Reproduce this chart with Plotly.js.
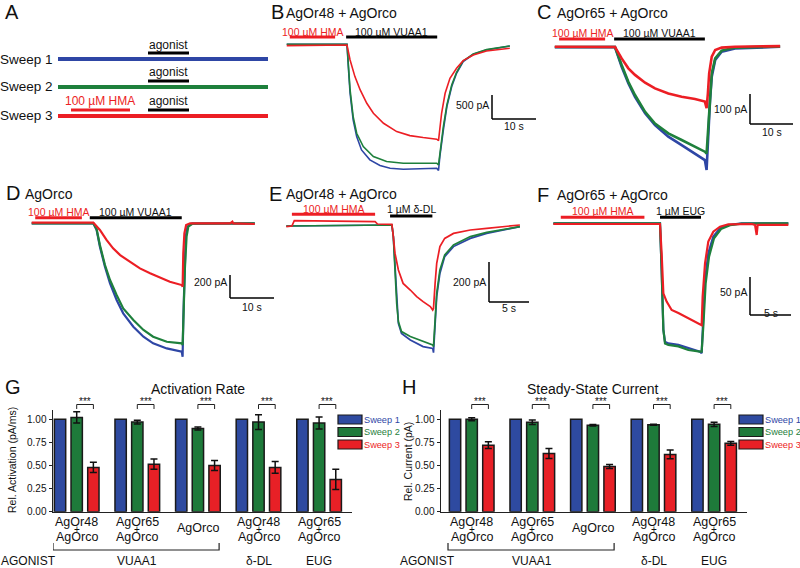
<!DOCTYPE html>
<html><head><meta charset="utf-8">
<script src="https://cdn.plot.ly/plotly-3.0.1.min.js"></script>
<style>body{margin:0;background:#fff}#chart{width:800px;height:568px}</style>
</head><body><div id="chart"></div>
<script>
// ---------------- DATA ----------------
const sweepNames = ['Sweep 1','Sweep 2','Sweep 3'];

// Panel B: AgOr48 + AgOrco, 100 uM VUAA1 (time s, current pA)
const bT1 = [-13.7,0,0.3,0.7,1.4,2.2,3.3,5.2,7.5,9.8,12.8,16.6,20.4,20.8,21.1,21.9,22.7,23.8,24.9,26.4,28.7,31.7,37.0];
const bI1 = [0,0,-465,-1020,-1575,-1922,-2200,-2408,-2526,-2582,-2603,-2596,-2582,-2630,-2339,-1784,-1298,-881,-604,-361,-208,-118,-35];
const bT2 = [-13.7,0,0.7,1.4,2.2,3.7,6.0,9.0,12.8,16.6,20.4,20.8,21.1,21.9,22.7,23.8,24.9,26.4,28.7,31.7,37.0];
const bI2 = [0,0,-951,-1506,-1853,-2131,-2339,-2443,-2478,-2485,-2478,-2512,-2269,-1714,-1263,-847,-583,-347,-201,-111,-35];
const bT3 = [-13.7,0,0.7,1.8,3.0,4.5,6.0,8.3,11.3,14.3,17.3,20.4,20.8,21.0,21.5,22.3,23.4,24.9,26.4,28.7,31.7,37.0];
const bI3 = [-28,-14,-326,-673,-951,-1228,-1437,-1645,-1818,-1902,-1943,-1978,-2006,-1853,-1437,-1020,-708,-500,-340,-222,-139,-83];

// Panel C: AgOr65 + AgOrco, 100 uM VUAA1
const cT1 = [-14.0,0,1.55,3.1,4.65,7.0,9.3,12.4,15.5,18.6,20.9,21.3,21.7,22.1,22.5,23.3,24.8,27.9,38.4];
const cI1 = [-2,-1,-67,-122,-167,-222,-261,-300,-328,-356,-378,-411,-289,-178,-100,-44,-17,-6,0];
const cT2 = [-14.0,0,1.55,3.1,4.65,7.0,9.3,12.4,15.5,18.6,20.9,21.3,21.7,22.1,22.5,23.3,24.8,27.9,38.4];
const cI2 = [-1,-1,-61,-117,-161,-217,-256,-289,-311,-333,-350,-356,-267,-167,-89,-39,-13,-3,1];
const cT3 = [-14.0,0,1.55,3.1,4.65,7.0,9.3,12.4,15.5,18.6,20.9,21.3,21.6,21.9,22.5,23.3,24.8,27.9,38.4];
const cI3 = [0,-1,-39,-72,-94,-120,-139,-156,-167,-174,-183,-205,-156,-89,-33,-11,-3,0,2];

// Panel D: AgOrco, 100 uM VUAA1
const dT1 = [-14.0,0,0.76,1.5,2.65,3.8,5.3,6.8,9.1,11.4,13.6,16.7,20.1,20.3,20.45,20.7,21.0,21.4,22.3,36.7];
const dI1 = [0,0,-58,-203,-377,-522,-667,-783,-899,-986,-1044,-1088,-1117,-1160,-841,-406,-116,-29,-3,0];
const dT2 = [-14.0,0,0.76,1.5,2.65,3.8,5.3,6.8,9.1,11.4,13.6,16.7,20.1,20.3,20.5,20.8,21.2,21.6,22.6,36.7];
const dI2 = [0,0,-52,-189,-363,-493,-624,-740,-841,-928,-986,-1030,-1044,-1059,-812,-406,-116,-29,-3,0];
const dT3 = [-14.0,0,1.5,3.0,4.5,6.1,8.3,10.6,12.9,15.2,17.4,20.1,20.3,20.45,20.7,21.1,22.0,31.1,31.6,31.8,36.7];
const dI3 = [6,6,-58,-145,-218,-276,-334,-392,-435,-470,-508,-537,-551,-261,-87,-15,0,0,15,0,-6];

// Panel E: AgOr48 + AgOrco, 1 uM delta-DL
const eT1 = [-13.3,-0.1,0.08,0.29,0.5,0.71,1.1,2.2,3.8,5.0,5.1,5.3,5.5,5.9,6.5,7.6,9.7,11.75,13.8,15.9];
const eI1 = [-5,0,-58,-225,-392,-492,-542,-575,-608,-617,-638,-508,-358,-242,-158,-108,-67,-42,-25,-8];
const eT2 = [-13.3,-0.1,0.08,0.29,0.5,0.71,1.1,2.2,3.8,5.0,5.1,5.3,5.5,5.9,6.5,7.6,9.7,11.75,13.8,15.9];
const eI2 = [-5,0,-58,-225,-392,-483,-533,-558,-583,-600,-608,-492,-342,-225,-150,-100,-58,-37,-22,-8];
const eT3 = [-13.3,-12.6,-12.3,-2.2,-1.9,-0.1,0.08,0.29,0.71,1.3,2.2,3.0,3.8,4.7,5.0,5.1,5.3,5.5,5.9,6.5,7.6,9.7,11.75,13.8,15.9];
const eI3 = [-8,-5,22,17,5,3,-58,-142,-225,-292,-325,-358,-383,-408,-425,-417,-292,-192,-108,-67,-42,-25,-17,-8,0];

// Panel F: AgOr65 + AgOrco, 1 uM EUG
const fT1 = [-13.0,0,0.2,0.41,0.61,1.02,2.24,3.46,4.88,5.08,5.28,5.49,5.89,6.5,7.32,8.33,9.96,15.65];
const fI1 = [0,0,-61.4,-140,-156,-158,-160,-164.5,-168.9,-171,-127,-74.6,-39.5,-17.5,-6.6,-2.2,0,0];
const fT2 = [-13.0,0,0.2,0.41,0.61,1.02,2.24,3.46,4.88,5.08,5.28,5.57,5.98,6.59,7.44,8.54,9.96,15.65];
const fI2 = [0,0,-61.4,-140,-158,-160,-162,-166.7,-168.9,-168.9,-136,-78.9,-43.9,-19.7,-7.5,-2.6,-0.4,0];
const fT3 = [-13.0,0,0.2,0.41,0.81,1.42,2.24,3.46,4.67,5.08,5.2,5.49,5.89,6.5,7.32,8.33,11.18,11.59,11.79,11.91,13.2,15.65];
const fI3 = [-0.9,-0.9,-39.5,-92.1,-103,-114,-118,-125,-131,-134,-96.5,-52.6,-24.1,-11,-4.4,-1.3,-0.9,-2.2,-15.4,-2.2,-2.2,-2.2];

// Application protocol (s): HMA pre-application and agonist application
const hmaB = [-13.0,-2.7], agoB = [-0.2,20.5];
const hmaC = [-13.0,-2.3], agoC = [-0.2,20.9];
const hmaD = [-13.2,-2.6], agoD = [-0.8,20.1];
const hmaE = [-12.6,-2.2], agoE = [-0.33,4.96];
const hmaF = [-12.1,-1.9], agoF = [0,5.0];

// Panels G, H
const groupIdx = [0,1,2,3,4];
const groupLabels = [['AgOr48','+','AgOrco'],['AgOr65','+','AgOrco'],['AgOrco'],['AgOr48','+','AgOrco'],['AgOr65','+','AgOrco']];
const agonistNames = ['VUAA1','δ-DL','EUG'];
const actS1 = [1,1,1,1,1];
const actS2 = [1.02,0.97,0.90,0.97,0.96];
const actS2err = [0.06,0.02,0.015,0.08,0.065];
const actS3 = [0.48,0.515,0.50,0.48,0.35];
const actS3err = [0.055,0.055,0.055,0.063,0.11];
const curS1 = [1,1,1,1,1];
const curS2 = [1.00,0.967,0.935,0.94,0.945];
const curS2err = [0.017,0.025,0.008,0.006,0.022];
const curS3 = [0.72,0.63,0.49,0.62,0.74];
const curS3err = [0.036,0.054,0.022,0.047,0.02];

// ---------------- STYLE / LAYOUT ----------------
const W=800, H=568;
const FONT='Arial, "Liberation Sans", sans-serif';
const BLUE='rgb(46,70,165)', GREEN='rgb(30,128,60)', RED='rgb(236,30,36)';
const BARBLUE='rgb(46,74,160)', BARGREEN='rgb(30,122,58)', BARRED='rgb(232,32,38)';
const colors=[BLUE,GREEN,RED];
const px2x = px => px/W, py2y = py => 1-py/H;

const panels = {
  B:{ax:'3', px0:347,   py0:44.3,  sx:4.4, sy:0.048, box:[278,22,545,182], lw:1.6, data:[[bT1,bI1],[bT2,bI2],[bT3,bI3]], hma:hmaB, ago:agoB, agoTxt:'100 µM VUAA1', barY:37, hmaY:37, txtY:31.5,
      scale:{c:[492,119], dur:10, amp:500, ampTxt:'500 pA', ampY:105, durTxt:'10 s', durY:126}},
  C:{ax:'4', px0:615,   py0:46.7,  sx:4.3, sy:0.3,   box:[545,22,800,182], lw:2.6, data:[[cT1,cI1],[cT2,cI2],[cT3,cI3]], hma:hmaC, ago:agoC, agoTxt:'100 µM VUAA1', barY:39, hmaY:39, txtY:33,
      scale:{c:[750,124], dur:10, amp:100, ampTxt:'100 pA', ampY:109, durTxt:'10 s', durY:132}},
  D:{ax:'5', px0:93.3,  py0:223.3, sx:4.4, sy:0.115, box:[0,202,276,362], lw:2.2, data:[[dT1,dI1],[dT2,dI2],[dT3,dI3]], hma:hmaD, ago:agoD, agoTxt:'100 µM VUAA1', barY:217.7, hmaY:217.7, txtY:211.5,
      scale:{c:[230,298], dur:10, amp:200, ampTxt:'200 pA', ampY:282, durTxt:'10 s', durY:307}},
  E:{ax:'6', px0:392.7, py0:225,   sx:8,   sy:0.2,   box:[278,202,542,362], lw:1.7, data:[[eT1,eI1],[eT2,eI2],[eT3,eI3]], hma:hmaE, ago:agoE, agoTxt:'1 µM δ-DL', barY:216, hmaY:214.3, txtY:209.3,
      scale:{c:[489,302], dur:5, amp:200, ampTxt:'200 pA', ampY:282, durTxt:'5 s', durY:308}},
  F:{ax:'7', px0:660,   py0:223.3, sx:8.2, sy:0.76,  box:[545,202,800,362], lw:2.2, data:[[fT1,fI1],[fT2,fI2],[fT3,fI3]], hma:hmaF, ago:agoF, agoTxt:'1 µM EUG', barY:217.3, hmaY:217.3, txtY:210.7,
      scale:{c:[750,315], dur:5, amp:50, ampTxt:'50 pA', ampY:292, durTxt:'5 s', durY:313}}
};

const traces=[], shapes=[], annotations=[];
const layout = {
  width:W, height:H, margin:{l:0,r:0,t:0,b:0}, showlegend:false,
  paper_bgcolor:'#fff', plot_bgcolor:'rgba(0,0,0,0)',
  font:{family:FONT, color:'#111'},
  barmode:'group', bargap:0.175, bargroupgap:0.32
};

function ann(text, px, py, o={}) {
  annotations.push(Object.assign({text, x:px2x(px), y:py2y(py), xref:'paper', yref:'paper', showarrow:false,
    xanchor:'center', yanchor:'middle', borderpad:0, font:{family:FONT,size:12,color:'#111'}}, o));
}

// Trace panels
for (const key in panels) {
  const p = panels[key], ax=p.ax, b=p.box;
  layout['xaxis'+ax] = {domain:[b[0]/W, b[2]/W], range:[(b[0]-p.px0)/p.sx, (b[2]-p.px0)/p.sx], visible:false, anchor:'y'+ax, fixedrange:true};
  layout['yaxis'+ax] = {domain:[1-b[3]/H, 1-b[1]/H], range:[(p.py0-b[3])/p.sy, (p.py0-b[1])/p.sy], visible:false, anchor:'x'+ax, fixedrange:true};
  p.data.forEach((d,i)=>{
    traces.push({type:'scatter', mode:'lines', x:d[0], y:d[1], xaxis:'x'+ax, yaxis:'y'+ax,
      line:{color:colors[i], width:p.lw}, hoverinfo:'skip', cliponaxis:false});
  });
  // protocol bars
  shapes.push({type:'line', xref:'x'+ax, yref:'paper', x0:p.hma[0], x1:p.hma[1], y0:py2y(p.hmaY), y1:py2y(p.hmaY), line:{color:RED,width:3}});
  shapes.push({type:'line', xref:'x'+ax, yref:'paper', x0:p.ago[0], x1:p.ago[1], y0:py2y(p.barY), y1:py2y(p.barY), line:{color:'#000',width:3}});
  annotations.push({text:'100 µM HMA', xref:'x'+ax, yref:'paper', x:(p.hma[0]+p.hma[1])/2, y:py2y(p.txtY), showarrow:false, xanchor:'center', yanchor:'middle', borderpad:0, font:{family:FONT,size:10.5,color:RED}});
  annotations.push({text:p.agoTxt, xref:'x'+ax, yref:'paper', x:(p.ago[0]+p.ago[1])/2, y:py2y(p.txtY), showarrow:false, xanchor:'center', yanchor:'middle', borderpad:0, font:{family:FONT,size:10.5,color:'#111'}});
  // scale bar
  const s=p.scale, tc=(s.c[0]-p.px0)/p.sx, ic=(p.py0-s.c[1])/p.sy;
  shapes.push({type:'line', xref:'x'+ax, yref:'y'+ax, x0:tc, x1:tc, y0:ic, y1:ic+s.amp, line:{color:'#000',width:1.5}});
  shapes.push({type:'line', xref:'x'+ax, yref:'y'+ax, x0:tc, x1:tc+s.dur, y0:ic, y1:ic, line:{color:'#000',width:1.5}});
  annotations.push({text:s.ampTxt, xref:'x'+ax, yref:'paper', x:tc, xshift:-2, y:py2y(s.ampY), showarrow:false, xanchor:'right', yanchor:'middle', borderpad:0, font:{family:FONT,size:10.5,color:'#111'}});
  annotations.push({text:s.durTxt, xref:'x'+ax, yref:'paper', x:tc+s.dur/2, y:py2y(s.durY), showarrow:false, xanchor:'center', yanchor:'middle', borderpad:0, font:{family:FONT,size:10.5,color:'#111'}});
}

// Panel letters and titles
const LET={family:FONT,size:20,color:'#111'}, TIT={family:FONT,size:14,color:'#111'};
ann('A',4,12,{xanchor:'left',font:LET});
ann('B',270,12,{xanchor:'left',font:LET}); ann('AgOr48 + AgOrco',285,13,{xanchor:'left',font:TIT});
ann('C',536,12,{xanchor:'left',font:LET}); ann('AgOr65 + AgOrco',556,13,{xanchor:'left',font:TIT});
ann('D',5,193,{xanchor:'left',font:LET}); ann('AgOrco',24,194,{xanchor:'left',font:TIT});
ann('E',268,194,{xanchor:'left',font:LET}); ann('AgOr48 + AgOrco',285,194,{xanchor:'left',font:TIT});
ann('F',536,195,{xanchor:'left',font:LET}); ann('AgOr65 + AgOrco',556,195,{xanchor:'left',font:TIT});
ann('G',4,387,{xanchor:'left',font:LET});
ann('H',401,387,{xanchor:'left',font:LET});

// Panel A schematic
const sweepY=[59,87,116];
sweepY.forEach((y,i)=>{
  shapes.push({type:'line',xref:'paper',yref:'paper',x0:px2x(58),x1:px2x(268),y0:py2y(y),y1:py2y(y),line:{color:colors[i],width:4}});
  ann(sweepNames[i],54,y,{xanchor:'right',font:{family:FONT,size:13.5,color:'#111'}});
  shapes.push({type:'line',xref:'paper',yref:'paper',x0:px2x(148),x1:px2x(189),y0:py2y(y-6),y1:py2y(y-6),line:{color:'#000',width:3}});
  ann('agonist',168.5,y-14.5,{font:{family:FONT,size:12,color:'#111'}});
});
shapes.push({type:'line',xref:'paper',yref:'paper',x0:px2x(71),x1:px2x(130),y0:py2y(110),y1:py2y(110),line:{color:RED,width:3}});
ann('100 µM HMA',100,101.5,{font:{family:FONT,size:12,color:RED}});

// Bar panels G (x,y) and H (x2,y2)
const barPanels = [
  {xa:'x', ya:'y', xl:53, xr:352, c0:76.7, s1:actS1, s2:actS2, e2:actS2err, s3:actS3, e3:actS3err, title:'Activation Rate', titleX:198, ytitle:'Rel. Activation (pA/ms)', ytX:12, ytY:460, legX:338, agX:0, bracketLeft:53},
  {xa:'x2', ya:'y2', xl:441, xr:747, c0:471.7, s1:curS1, s2:curS2, e2:curS2err, s3:curS3, e3:curS3err, title:'Steady-State Current', titleX:593, ytitle:'Rel. Current (pA)', ytX:408, ytY:462, legX:739, agX:399, bracketLeft:448}
];
const pitch = 60.6;
barPanels.forEach((bp,k)=>{
  const suf = k===0?'':'2';
  layout['xaxis'+suf] = {domain:[bp.xl/W, bp.xr/W], range:[-(bp.c0-bp.xl)/pitch, (bp.xr-bp.c0)/pitch], anchor:'y'+suf,
    showline:true, linecolor:'#222', linewidth:1.5, ticks:'', showticklabels:false, showgrid:false, zeroline:false, fixedrange:true};
  layout['yaxis'+suf] = {domain:[1-511.8/H, 1-410/H], range:[0,1.1], anchor:'x'+suf,
    showline:true, linecolor:'#222', linewidth:1.5, ticks:'outside', ticklen:3, tickwidth:1.2, tickcolor:'#222',
    tickvals:[0,0.25,0.5,0.75,1.0], tickformat:'.2f', tickfont:{family:FONT,size:10,color:'#111'},
    showgrid:false, zeroline:false, fixedrange:true};
  const series=[[bp.s1,null],[bp.s2,bp.e2],[bp.s3,bp.e3]];
  const bcol=[BARBLUE,BARGREEN,BARRED];
  series.forEach((s,i)=>{
    const t={type:'bar', x:groupIdx, y:s[0], xaxis:bp.xa, yaxis:bp.ya, name:sweepNames[i],
      marker:{color:bcol[i], line:{color:'#1a1a1a', width:1.5}}, hoverinfo:'skip'};
    if (s[1]) t.error_y={type:'data', array:s[1], visible:true, color:'#111', thickness:1.5, width:3.5};
    traces.push(t);
  });
  // title, y-title
  ann(bp.title, bp.titleX, 389, {font:{family:FONT,size:14,color:'#111'}});
  ann(bp.ytitle, bp.ytX, bp.ytY, {textangle:-90, font:{family:FONT,size:10.5,color:'#111'}});
  // significance brackets
  const off = 16.7/pitch;
  groupIdx.forEach(g=>{
    shapes.push({type:'path', xref:bp.xa, yref:'paper',
      path:`M ${g},${py2y(409)} L ${g},${py2y(404.5)} L ${g+off},${py2y(404.5)} L ${g+off},${py2y(409)}`,
      line:{color:'#222',width:1}});
    annotations.push({text:'***', xref:bp.xa, yref:'paper', x:g+off/2, y:py2y(401.5), showarrow:false,
      xanchor:'center', yanchor:'middle', borderpad:0, font:{family:FONT,size:10,color:'#111'}});
  });
  // category labels
  groupIdx.forEach(g=>{
    const L=groupLabels[g];
    const ys = L.length===3 ? [521.5,529,536.7] : [527.7];
    L.forEach((s,j)=>annotations.push({text:s, xref:bp.xa, yref:'paper', x:g, y:py2y(ys[j]), showarrow:false,
      xanchor:'center', yanchor:'middle', borderpad:0, font:{family:FONT,size:(s==='+'?10:12.5),color:'#111'}}));
  });
  // VUAA1 bracket
  const xl=-(bp.c0-bp.bracketLeft)/pitch, xr=2.35;
  shapes.push({type:'path', xref:bp.xa, yref:'paper',
    path:`M ${xl},${py2y(543)} L ${xl},${py2y(550)} L ${xr},${py2y(550)} L ${xr},${py2y(543)}`, line:{color:'#222',width:1.2}});
  // agonist row
  ann('AGONIST', bp.agX, 560.5, {xanchor:'left', font:{family:FONT,size:12,color:'#111'}});
  [1,3,4].forEach((g,j)=>annotations.push({text:agonistNames[j], xref:bp.xa, yref:'paper', x:g, y:py2y(560.5), showarrow:false,
      xanchor:'center', yanchor:'middle', borderpad:0, font:{family:FONT,size:12,color:'#111'}}));
  // legend
  [419.5,432,444.5].forEach((y,i)=>{
    shapes.push({type:'rect', xref:'paper', yref:'paper', x0:px2x(bp.legX), x1:px2x(bp.legX+24), y0:py2y(y-4.5), y1:py2y(y+4.5),
      fillcolor:bcol[i], line:{color:'#1a1a1a', width:1.2}});
    ann(sweepNames[i], bp.legX+25, y, {xanchor:'left', font:{family:FONT,size:9.2,color:colors[i]}});
  });
});

layout.shapes = shapes;
layout.annotations = annotations;
Plotly.newPlot('chart', traces, layout, {staticPlot:true, displayModeBar:false});
</script>
</body></html>
